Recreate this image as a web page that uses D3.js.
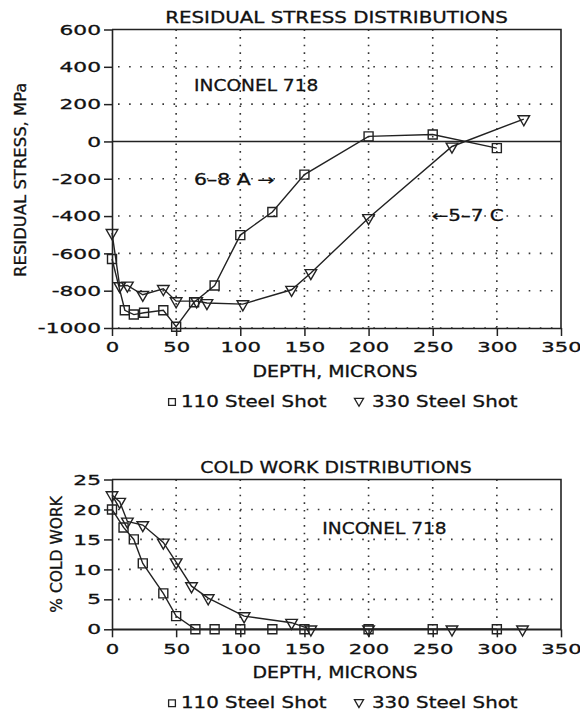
<!DOCTYPE html>
<html>
<head>
<meta charset="utf-8">
<script src="https://cdn.jsdelivr.net/npm/d3@7"></script>
<style>
  body { margin: 0; background: #fff; }
  svg { display: block; }
  text { font-family: "DejaVu Sans", sans-serif; fill: #111; stroke: #111; stroke-width: 0.3px; }
</style>
</head>
<body>
<svg id="chart" width="580" height="713"></svg>
<script>
// residual stress (MPa) vs depth (microns)
const stressDepth110 = [0, 10, 17, 25, 40, 50, 64, 80, 100, 125, 150, 200, 250, 300];
const stress110 = [-630, -905, -928, -918, -905, -993, -862, -772, -502, -378, -178, 27, 37, -36];
const stressDepth330 = [0, 6, 12, 24, 40, 50, 66, 74, 102, 140, 155, 200, 265, 321];
const stress330 = [-490, -775, -772, -822, -790, -856, -856, -866, -872, -795, -705, -410, -27, 120];

// % cold work vs depth (microns)
const coldDepth110 = [0, 9, 17, 24, 40, 50, 65, 80, 100, 125, 150, 200, 250, 300];
const cold110 = [20, 17, 15, 11, 6, 2.2, 0, 0, 0, 0, 0, 0, 0, 0];
const coldDepth330 = [0, 6, 12, 24, 40, 50, 62, 75, 103, 140, 155, 200, 265, 320];
const cold330 = [22.4, 21.3, 18, 17.4, 14.5, 11.2, 7.2, 5.2, 2.2, 1.1, 0, 0, 0, 0];

const depthTicks = [0, 50, 100, 150, 200, 250, 300, 350];
const stressTicks = [600, 400, 200, 0, -200, -400, -600, -800, -1000];
const coldTicks = [25, 20, 15, 10, 5, 0];
const seriesNames = ["110 Steel Shot", "330 Steel Shot"];

const svg = d3.select("#chart");
svg.append("rect").attr("width", 580).attr("height", 713).attr("fill", "#fff");

// stretch text horizontally, the plotter font is wide
function widen(sel, f) {
  sel.each(function () {
    const w = this.getComputedTextLength();
    d3.select(this).attr("textLength", w * f).attr("lengthAdjust", "spacingAndGlyphs");
  });
}

const sq = d3.symbol().type(d3.symbolSquare).size(81);
const tri = d3.symbol().type(d3.symbolTriangle).size(58);

function panel(cfg) {
  const x = d3.scaleLinear().domain([0, 350]).range([112, 561]);
  const y = d3.scaleLinear().domain(cfg.yDomain).range([cfg.bottom, cfg.top]);
  const g = svg.append("g");

  // dotted grid
  g.selectAll(".vg").data(depthTicks.filter(d => d > 0 && d < 350)).join("line")
    .attr("x1", d => x(d)).attr("x2", d => x(d))
    .attr("y1", cfg.top).attr("y2", cfg.bottom)
    .attr("stroke", "#333").attr("stroke-width", 1.6)
    .attr("stroke-dasharray", "1.6,6").attr("stroke-linecap", "butt");
  g.selectAll(".hg").data(cfg.ticks.filter(d => d !== 0 && d !== cfg.yDomain[1])).join("line")
    .attr("x1", x(0) + 6).attr("x2", x(350))
    .attr("y1", d => y(d)).attr("y2", d => y(d))
    .attr("stroke", "#333").attr("stroke-width", 1.6)
    .attr("stroke-dasharray", "1.6,9.5");

  // zero line
  g.append("line").attr("x1", x(0)).attr("x2", x(350))
    .attr("y1", y(0)).attr("y2", y(0)).attr("stroke", "#222").attr("stroke-width", 1.6);

  // frame top + right
  g.append("path")
    .attr("d", `M${x(0)},${y(cfg.yDomain[1])}H${x(350)}V${y(cfg.yDomain[0])}`)
    .attr("fill", "none").attr("stroke", "#222").attr("stroke-width", 1.6);

  const ax = g.append("g").attr("transform", `translate(0,${cfg.bottom})`)
    .call(d3.axisBottom(x).tickValues(depthTicks).tickFormat(d => String(d))
      .tickSize(8).tickPadding(4).tickSizeOuter(0));
  const ay = g.append("g").attr("transform", `translate(${x(0)},0)`)
    .call(d3.axisLeft(y).tickValues(cfg.ticks).tickFormat(d => String(d))
      .tickSize(8).tickPadding(3).tickSizeOuter(0));
  [ax, ay].forEach(a => {
    a.select(".domain").attr("stroke", "#222").attr("stroke-width", 1.6);
    a.selectAll(".tick line").attr("stroke", "#222").attr("stroke-width", 1.5);
    a.selectAll("text").attr("font-size", 14.5).attr("fill", "#111")
      .style("font-family", "'DejaVu Sans', sans-serif");
  });
  ax.selectAll("text").attr("dy", "0.85em");
  widen(ax.selectAll("text"), 1.46);
  widen(ay.selectAll("text"), 1.5);

  // series
  const sets = [
    { xs: cfg.d110, ys: cfg.v110, sym: sq, rot: 0 },
    { xs: cfg.d330, ys: cfg.v330, sym: tri, rot: 180 }
  ];
  const line = d3.line().x(d => x(d[0])).y(d => y(d[1]));
  sets.forEach(s => {
    const pts = s.xs.map((d, i) => [d, s.ys[i]]);
    g.append("path").datum(pts).attr("d", line)
      .attr("fill", "none").attr("stroke", "#222").attr("stroke-width", 1.4);
    g.selectAll(null).data(pts).join("path")
      .attr("d", s.sym)
      .attr("transform", d => `translate(${x(d[0])},${y(d[1])}) rotate(${s.rot})`)
      .attr("fill", "none").attr("stroke", "#222").attr("stroke-width", 1.4);
  });

  // titles
  const t = g.append("text").attr("x", cfg.titleX).attr("y", cfg.top - 12)
    .attr("text-anchor", "middle").attr("dominant-baseline", "central")
    .attr("font-size", 16).text(cfg.title);
  widen(t, cfg.titleWiden);

  const xl = g.append("text").attr("x", 335).attr("y", cfg.bottom + 44)
    .attr("text-anchor", "middle").attr("dominant-baseline", "central")
    .attr("font-size", 15).text("DEPTH, MICRONS");
  widen(xl, 1.26);

  const yl = g.append("text")
    .attr("transform", `translate(${cfg.yLabelX},${(cfg.top + cfg.bottom) / 2 + cfg.yLabelShift}) rotate(-90)`)
    .attr("text-anchor", "middle").attr("dominant-baseline", "central")
    .attr("font-size", 15.5).text(cfg.yLabel);
  widen(yl, cfg.yLabelWiden);

  const ins = g.append("text").attr("x", x(cfg.inconel[0])).attr("y", y(cfg.inconel[1]))
    .attr("dominant-baseline", "central").attr("font-size", 16).text("INCONEL 718");
  widen(ins, 1.16);

  // legend
  const ly = cfg.bottom + 74;
  const lg = g.append("g");
  lg.append("path").attr("d", d3.symbol().type(d3.symbolSquare).size(46))
    .attr("transform", `translate(172,${ly})`)
    .attr("fill", "none").attr("stroke", "#222").attr("stroke-width", 1.3);
  const l1 = lg.append("text").attr("x", 181).attr("y", ly).attr("dominant-baseline", "central")
    .attr("font-size", 15).text(seriesNames[0]);
  widen(l1, 1.32);
  lg.append("path").attr("d", d3.symbol().type(d3.symbolTriangle).size(36))
    .attr("transform", `translate(359,${ly - 1}) rotate(180)`)
    .attr("fill", "none").attr("stroke", "#222").attr("stroke-width", 1.3);
  const l2 = lg.append("text").attr("x", 372).attr("y", ly).attr("dominant-baseline", "central")
    .attr("font-size", 15).text(seriesNames[1]);
  widen(l2, 1.32);

  return { g, x, y };
}

const stressPanel = panel({
  top: 29.5, bottom: 328, yDomain: [-1000, 600], ticks: stressTicks,
  d110: stressDepth110, v110: stress110, d330: stressDepth330, v330: stress330,
  title: "RESIDUAL STRESS DISTRIBUTIONS", titleX: 336.5, titleWiden: 1.24,
  yLabel: "RESIDUAL STRESS, MPa", yLabelX: 21, yLabelShift: 1, yLabelWiden: 1.06,
  inconel: [64, 300]
});

// arrow notes on the stress panel
const n1 = stressPanel.g.append("text").attr("x", stressPanel.x(64)).attr("y", stressPanel.y(-205))
  .attr("dominant-baseline", "central").attr("font-size", 15).text("6–8 A →");
widen(n1, 1.36);
const n2 = stressPanel.g.append("text").attr("x", stressPanel.x(249)).attr("y", stressPanel.y(-400))
  .attr("dominant-baseline", "central").attr("font-size", 15).text("←5–7 C");
widen(n2, 1.33);

panel({
  top: 479.5, bottom: 629.3, yDomain: [0, 25], ticks: coldTicks,
  d110: coldDepth110, v110: cold110, d330: coldDepth330, v330: cold330,
  title: "COLD WORK DISTRIBUTIONS", titleX: 336, titleWiden: 1.18,
  yLabel: "% COLD WORK", yLabelX: 57, yLabelShift: 0, yLabelWiden: 1.0,
  inconel: [164, 16.9]
});
</script>
</body>
</html>
